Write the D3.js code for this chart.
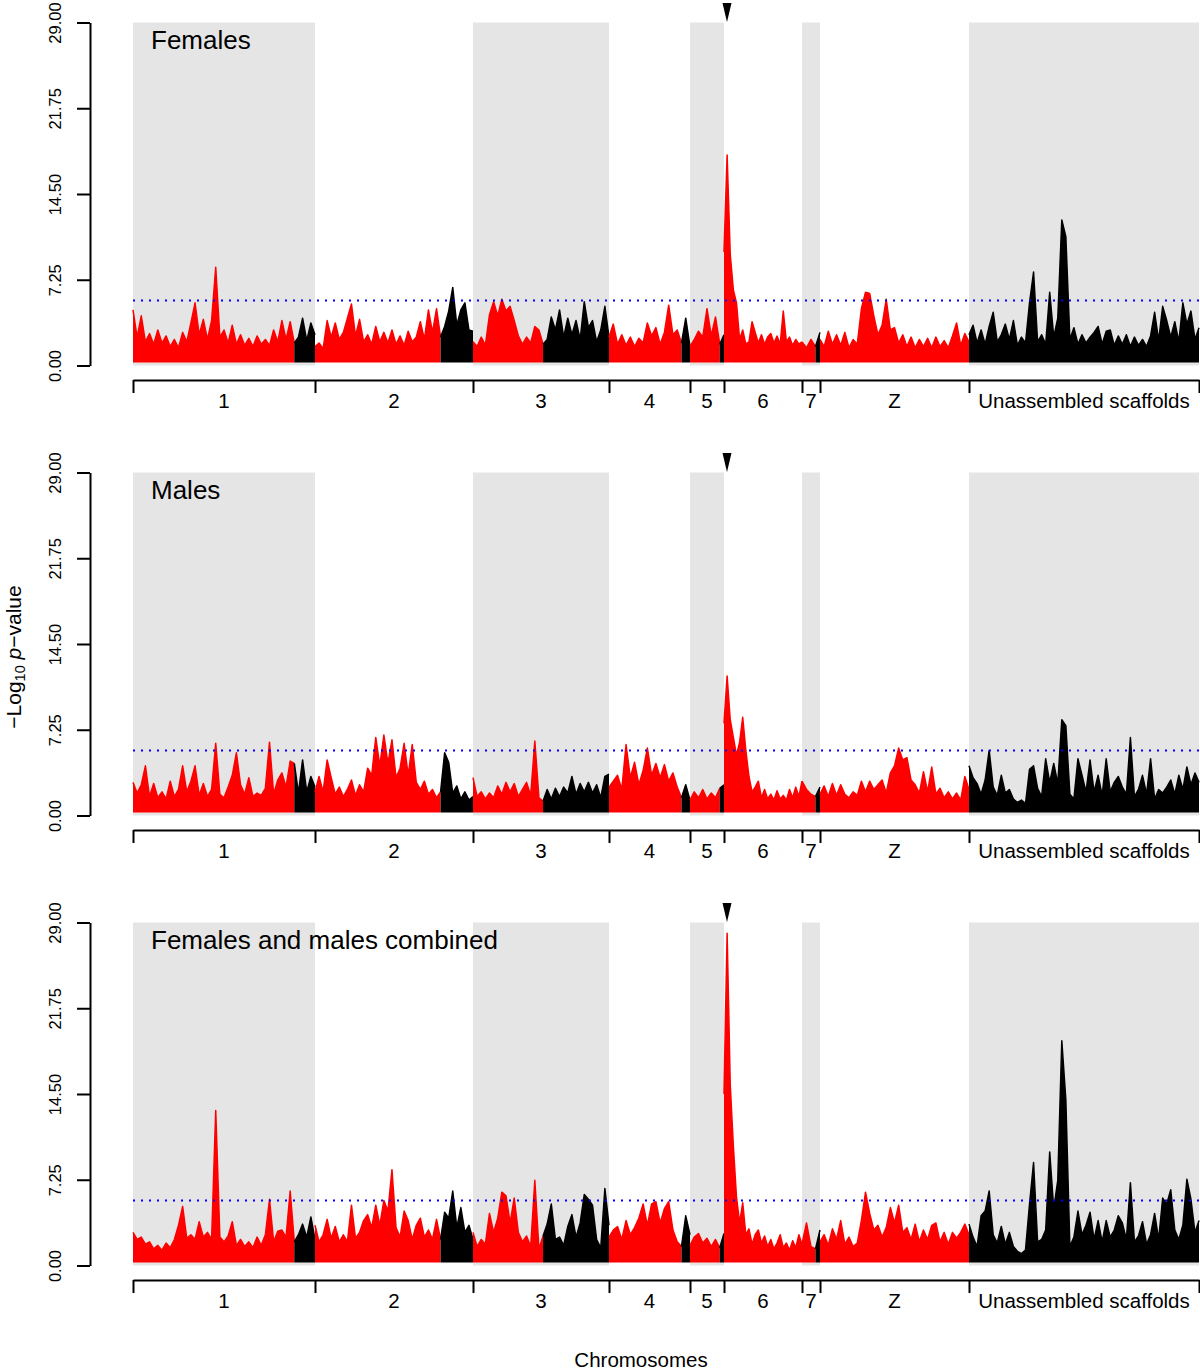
<!DOCTYPE html>
<html><head><meta charset="utf-8">
<script src="https://cdn.jsdelivr.net/npm/d3@7"></script>
<style>body{margin:0;background:#fff} svg{display:block}</style>
</head><body>
<svg id="chart" width="1200" height="1371"></svg>
<script>
// ---------- data ----------
const chromosomes = ["1","2","3","4","5","6","7","Z","Unassembled scaffolds"];
const chromLengths = [182,158,136,81,34,78,18,149,230];
// number of trailing points per chromosome that lie on unplaced scaffolds (drawn black)
const unplacedPoints = [5,8,16,2,1,0,1,0,58];
const shadedChromosomes = ["1","3","5","7","Unassembled scaffolds"];
const yTicks = [0,7.25,14.5,21.75,29];
const yMax = 29;
const threshold = 5.5;
const minLogP = 0.25;
const panelTitles = ["Females","Males","Females and males combined"];
const arrowChrom = "6";
const arrowPos = 3;

const females_1 = [4.7,2.4,4.2,2.0,2.7,1.8,3.0,1.9,2.5,1.6,2.2,1.5,2.8,2.0,3.6,5.3,2.6,3.9,2.2,3.8,8.3,2.4,3.0,1.9,3.4,1.8,2.6,1.7,2.3,1.6,2.5,1.8,2.2,1.7,3.0,2.0,3.8,2.2,3.7,1.9,2.4,4.0,2.1,3.6,2.6];
const females_2 = [1.6,1.9,1.4,3.8,2.4,3.6,2.2,2.8,4.0,5.2,2.5,3.9,2.0,2.6,1.8,3.3,2.0,2.8,1.9,3.0,1.8,2.5,1.7,2.9,2.0,2.4,3.7,2.2,4.7,2.8,4.8,2.4,3.3,4.6,6.6,3.4,4.7,5.3,3.0,2.9];
const females_3 = [2.0,1.6,2.4,1.7,4.3,5.4,4.2,5.6,4.6,5.0,3.8,2.5,1.8,2.4,1.9,3.3,3.0,1.8,2.2,4.1,3.0,4.7,2.4,4.0,2.6,3.8,2.2,5.4,3.2,3.8,2.0,3.0,5.0,2.4];
const females_4 = [2.4,3.5,1.8,2.6,1.7,2.4,1.6,2.3,1.9,3.6,2.5,3.2,1.8,2.8,5.1,2.6,3.0,1.9,4.0,1.6];
const females_5 = [1.6,2.2,2.9,2.4,4.8,2.5,4.1,1.8,2.6];
const females_6 = [9.6,17.8,9.4,6.4,5.3,2.2,3.0,1.8,2.0,3.7,2.8,1.9,2.6,1.8,2.4,2.7,1.9,2.5,1.8,4.6,2.0,2.4,1.7,2.2,1.8,2.0];
const females_7 = [2.0,1.5,2.2,1.6,2.8];
const females_Z = [2.2,1.6,2.9,1.8,2.6,1.7,2.8,1.5,2.2,1.8,4.8,6.2,6.1,4.2,2.6,3.4,5.6,3.0,3.2,1.9,2.6,1.6,2.4,1.5,2.2,1.6,2.3,1.5,2.4,1.6,2.1,1.5,2.5,3.6,1.7,2.7,2.0];
const females_Un = [2.6,3.4,1.9,3.0,1.8,3.3,4.5,2.0,2.6,3.5,2.2,3.8,1.7,2.4,1.9,5.3,7.9,2.0,2.6,1.8,6.2,2.4,4.0,12.3,10.9,2.2,3.2,1.8,2.6,1.9,2.4,2.8,3.3,1.8,2.9,3.0,1.7,2.5,1.8,2.6,1.6,2.4,1.7,2.2,1.6,2.5,4.5,2.1,5.0,3.8,2.4,3.7,2.0,5.3,3.5,4.6,2.2,3.2];

const males_1 = [2.8,1.9,2.6,4.2,1.6,2.7,1.5,2.0,1.4,2.9,1.6,2.2,4.2,2.0,2.9,4.2,1.7,2.7,1.6,2.2,6.1,1.8,1.5,2.4,3.4,5.3,2.6,1.8,3.2,1.6,1.9,1.7,2.3,6.2,1.8,3.0,3.6,2.4,4.6,4.4,1.9,4.7,2.0,3.3,2.4];
const males_2 = [2.0,3.3,2.0,4.7,3.2,1.8,2.4,1.6,2.2,3.0,1.7,2.6,2.0,4.0,3.4,6.6,4.2,6.8,4.4,6.4,3.2,4.0,6.1,3.4,6.0,2.8,2.2,2.9,1.8,2.2,1.5,2.0,5.3,4.5,1.9,2.5,1.4,2.0,1.3,1.6];
const males_3 = [3.2,1.6,2.0,1.4,1.9,1.5,2.5,1.8,2.8,2.0,2.7,1.6,2.2,2.8,1.7,6.3,1.5,1.2,2.2,1.4,2.3,1.6,2.4,1.9,3.3,1.8,2.7,2.0,2.8,1.9,2.6,1.5,3.3,3.5];
const males_4 = [2.4,2.9,3.4,2.2,6.0,3.2,4.5,2.6,3.8,5.7,3.4,4.4,3.2,4.3,2.9,3.6,2.4,1.5,2.6,1.3];
const males_5 = [1.3,2.0,1.5,2.2,1.4,1.9,1.5,2.3,2.6];
const males_6 = [7.8,11.8,8.1,6.6,5.1,6.2,8.3,5.5,3.3,2.0,2.4,2.9,1.5,2.2,1.4,1.8,1.3,2.1,1.4,1.7,1.3,2.2,1.5,2.4,1.6,2.9];
const males_7 = [2.9,2.2,1.8,1.6,2.4];
const males_Z = [1.8,2.5,1.6,2.7,1.7,2.6,1.8,1.5,2.0,1.7,2.9,2.0,2.9,2.2,2.6,3.0,1.9,3.6,4.2,5.7,4.7,4.9,3.0,2.6,1.9,3.7,2.0,4.1,1.8,2.3,1.5,2.0,1.4,1.9,1.3,3.3,2.2];
const males_Un = [4.2,3.2,2.7,1.8,3.0,5.5,2.4,1.7,3.4,1.9,2.2,1.4,1.1,1.3,1.0,3.9,4.2,2.3,1.6,4.8,2.8,4.4,2.7,8.1,7.6,1.8,1.4,4.8,3.4,2.0,4.7,2.0,3.4,1.7,4.8,2.0,2.8,3.3,2.4,1.8,6.6,1.6,2.2,3.4,1.8,4.8,1.4,2.2,1.9,2.4,3.0,1.8,3.4,2.2,4.1,2.6,3.6,2.8];

const combined_1 = [2.8,2.2,2.4,1.8,2.0,1.4,1.7,1.3,1.9,1.5,2.2,3.4,5.0,2.3,2.6,2.2,3.7,2.4,2.8,2.2,13.1,2.4,2.0,2.5,3.7,1.7,2.2,1.6,2.0,1.5,2.4,1.7,2.6,5.6,2.0,2.9,3.0,2.4,6.3,2.0,2.6,3.5,2.4,4.1,2.2];
const combined_2 = [3.4,2.0,2.6,3.9,2.3,3.3,2.0,2.6,2.0,5.1,2.3,2.8,3.8,4.3,3.2,5.1,3.4,5.5,4.6,8.1,3.2,2.4,4.6,3.8,2.2,3.4,4.0,2.4,3.0,2.2,3.9,2.2,4.5,4.0,6.3,3.2,4.9,2.8,3.4,2.2];
const combined_3 = [2.8,1.6,2.2,1.8,4.4,2.8,4.0,6.2,5.9,3.6,5.7,2.8,2.0,2.5,1.6,7.2,1.4,2.5,3.5,5.2,2.2,2.4,1.7,3.3,4.3,2.4,3.6,6.0,5.6,5.1,2.2,1.5,6.5,3.4];
const combined_4 = [2.4,3.0,3.3,2.2,3.8,2.6,3.2,4.0,5.2,3.4,5.2,5.4,3.6,4.8,5.4,3.0,2.0,1.6,4.2,2.6];
const combined_5 = [1.7,2.4,2.7,1.9,2.3,1.6,2.2,1.5,2.7];
const combined_6 = [14.5,28.1,15.3,10.1,5.8,3.6,5.3,2.6,3.1,1.8,2.6,3.0,1.9,2.5,1.6,2.2,1.4,1.9,2.6,1.5,1.9,1.3,2.1,1.5,2.6,1.8];
const combined_7 = [1.8,3.6,1.6,1.4,3.0];
const combined_Z = [2.0,2.6,1.7,3.1,2.2,3.8,1.8,2.4,1.6,1.9,3.8,6.2,4.4,3.0,3.4,2.4,3.2,4.9,3.6,5.1,2.8,3.2,2.2,3.5,2.0,3.0,2.2,3.4,3.6,2.0,2.8,1.8,2.8,2.3,2.8,3.5,2.6];
const combined_Un = [3.5,2.4,1.6,4.2,4.6,6.3,2.6,1.9,3.3,1.8,2.8,1.6,1.2,1.0,1.3,5.2,8.7,2.0,2.2,3.0,9.6,4.8,7.2,19.0,14.0,1.6,2.4,4.6,2.6,3.4,4.5,2.2,3.8,2.0,3.8,2.4,3.0,4.2,3.6,2.2,7.0,2.0,2.5,3.7,1.8,2.6,4.4,2.2,5.7,5.2,6.4,3.0,2.2,3.4,7.3,5.6,2.8,3.8];

const panels = [
  {title: panelTitles[0], series: [females_1,females_2,females_3,females_4,females_5,females_6,females_7,females_Z,females_Un]},
  {title: panelTitles[1], series: [males_1,males_2,males_3,males_4,males_5,males_6,males_7,males_Z,males_Un]},
  {title: panelTitles[2], series: [combined_1,combined_2,combined_3,combined_4,combined_5,combined_6,combined_7,combined_Z,combined_Un]}
];

// ---------- drawing ----------
const FONT = "'Liberation Sans', Arial, Helvetica, sans-serif";
const svg = d3.select("#chart");
const cumStart = [];
let acc = 0;
chromLengths.forEach(l => { cumStart.push(acc); acc += l; });
const total = acc;
const bounds = cumStart.concat([total]);
const x = d3.scaleLinear().domain([0, total]).range([133, 1199]);

panels.forEach((p, pi) => {
  const off = pi * 450;
  const y = d3.scaleLinear().domain([0, yMax]).range([365.5 + off, 22.5 + off]);
  const g = svg.append("g");

  // shaded chromosomes
  chromosomes.forEach((c, i) => {
    if (!shadedChromosomes.includes(c)) return;
    g.append("rect")
      .attr("x", x(cumStart[i]))
      .attr("width", x(cumStart[i] + chromLengths[i]) - x(cumStart[i]))
      .attr("y", y(yMax))
      .attr("height", y(0) - y(yMax))
      .attr("fill", "#e5e5e5");
  });

  // data
  const area = d3.area().x(d => x(d.pos)).y0(y(minLogP)).y1(d => y(d.v));
  const line = d3.line().x(d => x(d.pos)).y(d => y(d.v));
  p.series.forEach((vals, i) => {
    const n = vals.length, len = chromLengths[i];
    const pts = vals.map((v, j) => ({pos: cumStart[i] + j * len / (n - 1), v}));
    const k = unplacedPoints[i];
    const red = pts.slice(0, n - k);
    const black = k > 0 ? pts.slice(Math.max(0, n - k - 1)) : [];
    [[red, "#ff0000"], [black, "#000000"]].forEach(([seg, col]) => {
      if (seg.length < 2) return;
      g.append("path").attr("d", area(seg)).attr("fill", col);
      g.append("path").attr("d", line(seg)).attr("fill", "none")
        .attr("stroke", col).attr("stroke-width", 1.5).attr("stroke-linejoin", "round");
    });
  });

  // threshold
  g.append("line")
    .attr("x1", x(0)).attr("x2", x(total))
    .attr("y1", y(threshold)).attr("y2", y(threshold))
    .attr("stroke", "#0000ff").attr("stroke-width", 2).attr("stroke-dasharray", "2,6");

  // y axis
  const yAxis = d3.axisLeft(y).tickValues(yTicks).tickFormat(d3.format(".2f")).tickSize(13).tickSizeOuter(0);
  const ya = svg.append("g").attr("transform", "translate(90,0)").call(yAxis);
  ya.select(".domain").attr("stroke-width", 2);
  ya.selectAll(".tick line").attr("stroke-width", 2);
  ya.selectAll(".tick text")
    .attr("transform", "rotate(-90)").attr("x", 0).attr("y", -29).attr("dy", 0)
    .attr("text-anchor", "middle").attr("fill", "#000")
    .style("font-size", "16.5px").style("font-family", FONT);

  // chromosome axis
  const xAxis = d3.axisBottom(x).tickValues(bounds).tickFormat("").tickSize(13).tickSizeOuter(0);
  const xa = svg.append("g").attr("transform", `translate(0,${380 + off})`).call(xAxis);
  xa.select(".domain").attr("stroke-width", 2);
  xa.selectAll(".tick line").attr("stroke-width", 2);
  chromosomes.forEach((c, i) => {
    svg.append("text")
      .attr("x", x(cumStart[i] + chromLengths[i] / 2))
      .attr("y", 408 + off)
      .attr("text-anchor", "middle")
      .style("font-size", "20.5px").style("font-family", FONT)
      .text(c);
  });

  // arrow marker
  const ai = chromosomes.indexOf(arrowChrom);
  const ax = x(cumStart[ai] + arrowPos);
  svg.append("path")
    .attr("d", `M${ax - 4.5},${3 + off}L${ax + 4.5},${3 + off}L${ax},${22 + off}Z`)
    .attr("fill", "#000");

  // title
  svg.append("text")
    .attr("x", 151).attr("y", 49 + off)
    .style("font-size", "26px").style("font-family", FONT)
    .text(p.title);
});

// y label
const yl = svg.append("text")
  .attr("transform", "translate(21,657) rotate(-90)")
  .attr("text-anchor", "middle")
  .style("font-size", "21px").style("font-family", FONT);
yl.append("tspan").text("\u2212Log");
yl.append("tspan").attr("dy", 4).style("font-size", "14.5px").text("10");
yl.append("tspan").attr("dy", -4).text(" ");
yl.append("tspan").style("font-style", "italic").text("p");
yl.append("tspan").text("\u2212value");

// x label
svg.append("text")
  .attr("x", 641).attr("y", 1367)
  .attr("text-anchor", "middle")
  .style("font-size", "20.5px").style("font-family", FONT)
  .text("Chromosomes");
</script>
</body></html>
